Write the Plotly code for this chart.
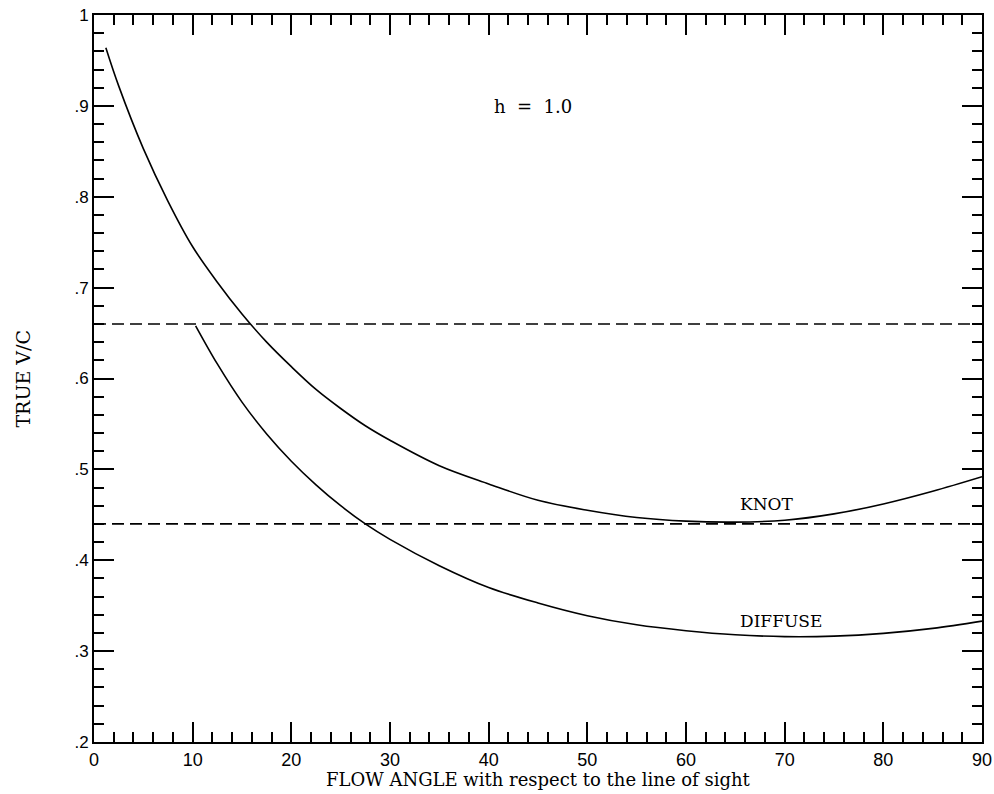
import plotly.graph_objects as go

# Data
knot_x = [1.2, 2.5, 5.0, 7.5, 10.0, 12.5, 15.0, 17.5, 20.0, 22.5, 25.0, 27.5, 30.0, 35.0, 40.0, 45.0, 50.0, 55.0, 60.0, 65.0, 70.0, 75.0, 80.0, 85.0, 90.0]
knot_y = [0.964, 0.922, 0.853, 0.795, 0.745, 0.706, 0.671, 0.640, 0.613, 0.588, 0.567, 0.548, 0.532, 0.504, 0.484, 0.466, 0.455, 0.447, 0.443, 0.442, 0.444, 0.451, 0.462, 0.476, 0.492]

diffuse_x = [10.3, 12.5, 15.0, 17.5, 20.0, 22.5, 25.0, 27.5, 30.0, 35.0, 40.0, 45.0, 50.0, 55.0, 60.0, 65.0, 70.0, 75.0, 80.0, 85.0, 90.0]
diffuse_y = [0.658, 0.616, 0.574, 0.539, 0.509, 0.483, 0.460, 0.440, 0.423, 0.394, 0.370, 0.353, 0.339, 0.329, 0.3225, 0.318, 0.316, 0.3165, 0.3195, 0.325, 0.333]

ref_levels = [0.66, 0.44]
ref_x = [0, 90]

x_ticks = [0, 10, 20, 30, 40, 50, 60, 70, 80, 90]
y_ticks = [0.2, 0.3, 0.4, 0.5, 0.6, 0.7, 0.8, 0.9, 1.0]
y_ticktext = [".2", ".3", ".4", ".5", ".6", ".7", ".8", ".9", "1"]

SERIF = "DejaVu Serif"
SANS = "Liberation Sans"

fig = go.Figure()
for lvl in ref_levels:
    fig.add_trace(go.Scatter(x=ref_x, y=[lvl, lvl], mode="lines",
                             line=dict(color="black", width=1.6, dash="12px,6px"),
                             showlegend=False, hoverinfo="skip"))
fig.add_trace(go.Scatter(x=knot_x, y=knot_y, mode="lines", line_shape="spline",
                         line=dict(color="black", width=1.6), showlegend=False))
fig.add_trace(go.Scatter(x=diffuse_x, y=diffuse_y, mode="lines", line_shape="spline",
                         line=dict(color="black", width=1.6), showlegend=False))

axis_common = dict(showgrid=False, zeroline=False, showline=True, linecolor="black",
                   linewidth=2, mirror="ticks", ticks="inside", ticklen=20, tickwidth=2,
                   tickcolor="black", ticklabeloverflow="allow", automargin=False)

fig.update_xaxes(range=[0, 90], tickvals=x_ticks, ticktext=[str(v) for v in x_ticks],
                 tickfont=dict(family=SANS, size=18, color="black"),
                 minor=dict(dtick=2, ticklen=10, tickwidth=2, ticks="inside", tickcolor="black", showgrid=False),
                 **axis_common)
fig.update_yaxes(range=[0.2, 1.0], tickvals=y_ticks, ticktext=y_ticktext,
                 tickfont=dict(family=SANS, size=17, color="black"),
                 minor=dict(dtick=0.02, ticklen=10, tickwidth=2, ticks="inside", tickcolor="black", showgrid=False),
                 **axis_common)

fig.add_annotation(x=44.5, y=0.899, text="h  =  1.0", showarrow=False,
                   font=dict(family=SERIF, size=18, color="black"))
fig.add_annotation(x=65.3, y=0.462, text="KNOT", showarrow=False, xanchor="left",
                   font=dict(family=SERIF, size=17, color="black"))
fig.add_annotation(x=65.3, y=0.3333, text="DIFFUSE", showarrow=False, xanchor="left",
                   font=dict(family=SERIF, size=17, color="black"))
fig.add_annotation(x=0.5, y=-0.051, xref="paper", yref="paper", yanchor="middle",
                   text="FLOW ANGLE with respect to the line of sight", showarrow=False,
                   font=dict(family=SERIF, size=18, color="black"))
fig.add_annotation(x=-0.081, y=0.5, xref="paper", yref="paper", xanchor="center",
                   text="TRUE V/C", textangle=-90, showarrow=False,
                   font=dict(family=SERIF, size=19, color="black"))

fig.update_layout(width=994, height=794, plot_bgcolor="white", paper_bgcolor="white",
                  margin=dict(l=93.5, r=12, t=14.5, b=52), showlegend=False)

fig.write_html("out.html", config={"displayModeBar": False},
               post_script="document.body.style.margin='0';document.body.style.overflow='hidden';")
